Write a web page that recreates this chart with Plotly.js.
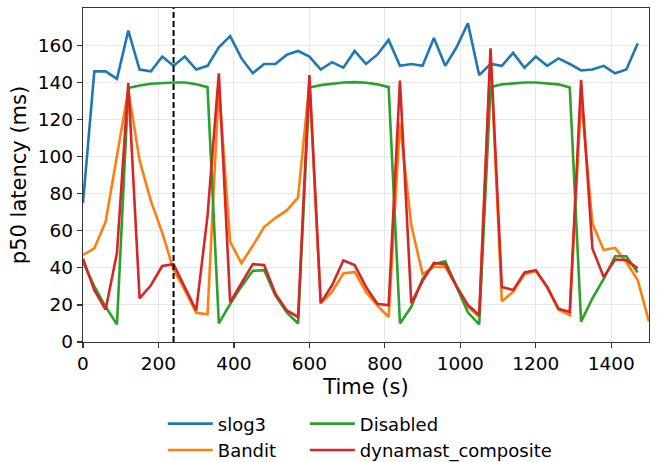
<!DOCTYPE html>
<html>
<head>
<meta charset="utf-8">
<script src="https://cdn.plot.ly/plotly-3.0.1.min.js"></script>
<style>
  html, body { margin: 0; padding: 0; background: #fff; }
  #chart { width: 657px; height: 462px; }
</style>
</head>
<body>
<div id="chart"></div>
<script>
const time = [0,30,60,90,120,150,180,210,240,270,300,330,360,390,420,450,480,510,540,570,600,630,660,690,720,750,780,810,840,870,900,930,960,990,1020,1050,1080,1110,1140,1170,1200,1230,1260,1290,1320,1350,1380,1410,1440,1470];
const banditTime = [0,30,60,90,120,150,180,210,240,270,300,330,360,390,420,450,480,510,540,570,600,630,660,690,720,750,780,810,840,870,900,930,960,990,1020,1050,1080,1110,1140,1170,1200,1230,1260,1290,1320,1350,1380,1410,1440,1470,1500];

const slog3 = [75,146,146,142,168,147,146,154,149,154,147,149,159,165,153,145,150,150,155,157,154,147,151,148,157,150,155,163,149,150,149,164,149,159,172,144,150,149,156,148,154,149,153,150,146.5,147,149,145,147,161];
const bandit = [47,50.5,65,100,136,98,76,59,39,28,15.7,15,138,54,42.5,52,62,67,71,78,140,21,27,37,37.8,27,19.8,13.5,118,63,36.6,40.5,40.5,30,19,13.6,155,22,27,36.6,38.3,29.7,17.5,14.4,132,64,49.6,50.8,43,33.4,11];
const disabled = [43,30,19,9.5,137,138.4,139.3,139.7,140,140,139.1,137.5,10,20.5,30,38.4,38.8,25,16,10,137.3,138.6,139.5,140,140.2,139.9,139,137.5,10,19,34,42,43.5,30,16,9.5,137.5,139,139.6,140,140,139.7,139,137.3,11,23.5,34,46.3,46.3,37.5];
const dynamast = [45,28,17.5,48,139.7,23.5,30.6,41,42,29.4,17,68,145,21.5,31.5,42,41.5,26,17,13.5,144,21,30.6,44,41.5,29.7,20.6,19.8,141,21,33,42.7,42,30,20,14.4,158.5,29.7,28,37.5,38.8,29.7,18,16.2,141.5,50.5,35,44.5,44.2,39.7];

const seriesNames = ['slog3','Bandit','Disabled','dynamast_composite'];
const colors = ['#1f77b4','#ff7f0e','#2ca02c','#d62728'];
const markerTime = 240;
const xTicks = [0,200,400,600,800,1000,1200,1400];
const yTicks = [0,20,40,60,80,100,120,140,160];

const font = "'DejaVu Sans', sans-serif";
const lw = 2.6;

const traces = [
  {x: time, y: slog3, name: seriesNames[0], legend: 'legend', legendrank: 1},
  {x: banditTime, y: bandit, name: seriesNames[1], legend: 'legend', legendrank: 2},
  {x: time, y: disabled, name: seriesNames[2], legend: 'legend2', legendrank: 1},
  {x: time, y: dynamast, name: seriesNames[3], legend: 'legend2', legendrank: 2}
].map((t, i) => Object.assign(t, {
  type: 'scatter', mode: 'lines', line: {color: colors[i], width: lw}, cliponaxis: true
}));

const axisCommon = {
  showline: true, mirror: true, linecolor: '#333', linewidth: 1.2,
  ticks: 'outside', ticklen: 5, tickwidth: 1.2, tickcolor: '#333',
  showgrid: true, gridcolor: '#e8e8e8', gridwidth: 1,
  zeroline: false,
  tickfont: {family: font, size: 18.5, color: '#000'}
};

const legendCommon = {
  orientation: 'v', xanchor: 'left', yanchor: 'top', y: -0.19,
  font: {family: font, size: 18, color: '#000'},
  bgcolor: 'rgba(0,0,0,0)', borderwidth: 0, itemwidth: 45,
  traceorder: 'normal'
};

const layout = {
  width: 657, height: 462,
  margin: {l: 83, r: 8, t: 8, b: 120, autoexpand: false},
  paper_bgcolor: '#fff', plot_bgcolor: '#fff',
  font: {family: font, color: '#000'},
  xaxis: Object.assign({}, axisCommon, {
    range: [0, 1500], tickvals: xTicks,
    title: {text: 'Time (s)', font: {family: font, size: 21, color: '#000'}, standoff: 5}
  }),
  yaxis: Object.assign({}, axisCommon, {
    range: [0, 180.2], tickvals: yTicks,
    title: {text: 'p50 latency (ms)', font: {family: font, size: 21, color: '#000'}, standoff: 5}
  }),
  showlegend: true,
  legend: Object.assign({}, legendCommon, {x: 0.141}),
  legend2: Object.assign({}, legendCommon, {x: 0.392}),
  shapes: [{
    type: 'line', xref: 'x', yref: 'paper', x0: markerTime, x1: markerTime, y0: 0, y1: 1,
    line: {color: '#000', width: 2, dash: '6px,3px'}, layer: 'above'
  }]
};

Plotly.newPlot('chart', traces, layout, {staticPlot: true, displayModeBar: false});
</script>
</body>
</html>
